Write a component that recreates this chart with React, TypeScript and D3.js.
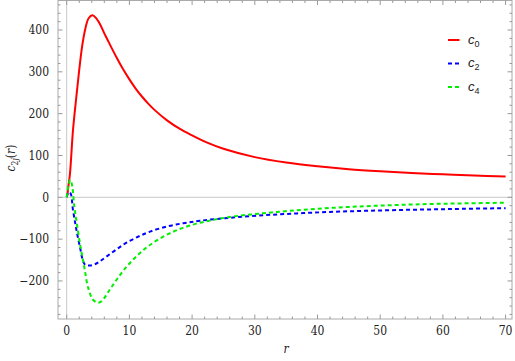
import React from "react";
import * as d3 from "d3";

const rC0 = [0, 0.1, 0.26, 0.53, 1.0, 1.5, 2.0, 2.5, 3.0, 3.5, 4.1, 5.0, 6.0, 7.0, 8.0, 9.0, 10.0, 11.0, 12.0, 13.0, 14.0, 16.0, 18.0, 20.0, 22.5, 25.0, 30.0, 35.0, 40.0, 45.0, 50.0, 55.0, 60.0, 65.0, 70.0];
const c0 = [3, 6, 25, 58, 160, 235, 305, 365, 405, 428, 435, 422, 392, 362, 333, 306, 282, 260, 241, 224, 209, 184, 164, 148, 130, 116, 96, 83, 74, 67, 62, 58, 55, 52, 50];

const rC2 = [0, 0.3, 0.6, 1.0, 1.35, 1.6, 2.1, 2.65, 3.0, 3.7, 4.5, 5.3, 6.5, 8.0, 9.6, 11.7, 13.3, 15.9, 18.6, 21.3, 26, 31.4, 36.7, 42, 47.3, 52.6, 57.9, 63.3, 70];
const c2 = [0, 12, 10, -30, -61, -82, -118, -154, -162, -163, -160, -153, -140, -124, -108, -92, -82, -70, -62, -56, -49, -43, -38.5, -35, -32.5, -30.5, -29, -27.5, -26];

const rC4 = [0, 0.3, 0.6, 0.9, 1.2, 1.6, 2.2, 2.65, 2.9, 3.4, 4.2, 5.0, 5.6, 6.9, 8.2, 9.6, 11.2, 13.0, 15.4, 18.0, 20.7, 23.4, 26, 31.4, 36.7, 42, 47.3, 52.6, 57.9, 63.3, 70];
const c4 = [0, 30, 42, 25, -20, -61, -118, -154, -175, -215, -245, -252, -248, -220, -192, -165, -140, -117, -94, -76, -63, -54, -47, -38, -31, -25.5, -21.5, -18.5, -16, -14.5, -13];

const xTicks = [0, 10, 20, 30, 40, 50, 60, 70];
const yTicks = [-200, -100, 0, 100, 200, 300, 400];

export default function App() {
  const W = 515, H = 361;
  const left = 58, right = 512, top = 0.5, bottom = 319;
  const x = d3.scaleLinear().domain([0, 70]).range([66.7, 505.6]);
  const y = d3.scaleLinear().domain([0, 400]).range([197.3, 30]);
  const line = (rs: number[], vs: number[]) =>
    d3.line<number>().x((_, i) => x(rs[i])).y((v) => y(v)).curve(d3.curveCatmullRom.alpha(0.5))(vs) || "";

  const xMinor = d3.range(0, 72, 2).filter((v) => x(v) > left && x(v) < right);
  const yMinor = d3.range(-280, 480, 20).filter((v) => y(v) > top && y(v) < bottom);
  const tickCol = "#999";
  const serif = "DejaVu Serif Condensed, DejaVu Serif, serif";
  const sans = "Liberation Sans, Arial, sans-serif";

  const legend = [
    { label: "0", color: "#ff0000", dash: undefined },
    { label: "2", color: "#0000ff", dash: "4,3" },
    { label: "4", color: "#00ee00", dash: "4,3" },
  ];

  return (
    <svg width={W} height={H} style={{ position: "absolute", left: 0, top: 0 }}>
      <rect x={0} y={0} width={W} height={H} fill="white" />
      <line x1={left} x2={right} y1={y(0)} y2={y(0)} stroke="#c8c8c8" strokeWidth={1} />
      <line x1={x(0)} x2={x(0)} y1={top} y2={bottom} stroke="#c8c8c8" strokeWidth={1} />
      <rect x={left} y={top} width={right - left} height={bottom - top} fill="none" stroke="#aaa" strokeWidth={1} />
      {xMinor.map((v) => {
        const major = v % 10 === 0;
        const len = major ? 4.5 : 2.5;
        return (
          <g key={"xt" + v}>
            <line x1={x(v)} x2={x(v)} y1={bottom} y2={bottom - len} stroke={tickCol} />
            <line x1={x(v)} x2={x(v)} y1={top} y2={top + len} stroke={tickCol} />
          </g>
        );
      })}
      {yMinor.map((v) => {
        const major = v % 100 === 0;
        const len = major ? 4.5 : 2.5;
        return (
          <g key={"yt" + v}>
            <line x1={left} x2={left + len} y1={y(v)} y2={y(v)} stroke={tickCol} />
            <line x1={right} x2={right - len} y1={y(v)} y2={y(v)} stroke={tickCol} />
          </g>
        );
      })}
      {xTicks.map((v) => (
        <text key={"xl" + v} x={x(v)} y={335} textAnchor="middle" fontFamily={serif} fontSize={12} fill="#222">
          {v}
        </text>
      ))}
      {yTicks.map((v) => (
        <text key={"yl" + v} x={49} y={y(v) + 4.3} textAnchor="end" fontFamily={serif} fontSize={12} fill="#222">
          {v < 0 ? "\u2212" + Math.abs(v) : v}
        </text>
      ))}
      <path d={line(rC0, c0)} fill="none" stroke="#ff0000" strokeWidth={2} />
      <path d={line(rC2, c2)} fill="none" stroke="#0000ff" strokeWidth={2} strokeDasharray="4,3" />
      <path d={line(rC4, c4)} fill="none" stroke="#00ee00" strokeWidth={2} strokeDasharray="4,3" />
      <text x={286} y={353} textAnchor="middle" fontFamily={serif} fontStyle="italic" fontSize={12} fill="#222">r</text>
      <text transform={`translate(15,${158}) rotate(-90)`} textAnchor="middle" fontFamily={serif} fontSize={12} fill="#222">
        <tspan fontStyle="italic">c</tspan>
        <tspan fontSize={8.5} dy={3}>2</tspan>
        <tspan fontSize={8.5} fontStyle="italic">j</tspan>
        <tspan dy={-3}>(</tspan>
        <tspan fontStyle="italic">r</tspan>
        <tspan>)</tspan>
      </text>
      {legend.map((d, i) => {
        const ly = 40 + i * 23.5;
        return (
          <g key={"lg" + i}>
            <line x1={448} x2={459.5} y1={ly} y2={ly} stroke={d.color} strokeWidth={2} strokeDasharray={d.dash} />
            <text x={468} y={ly + 3.5} fontFamily={sans} fontSize={13} fill="#222">
              <tspan fontStyle="italic">c</tspan>
              <tspan fontSize={9} dy={3}>{d.label}</tspan>
            </text>
          </g>
        );
      })}
    </svg>
  );
}
